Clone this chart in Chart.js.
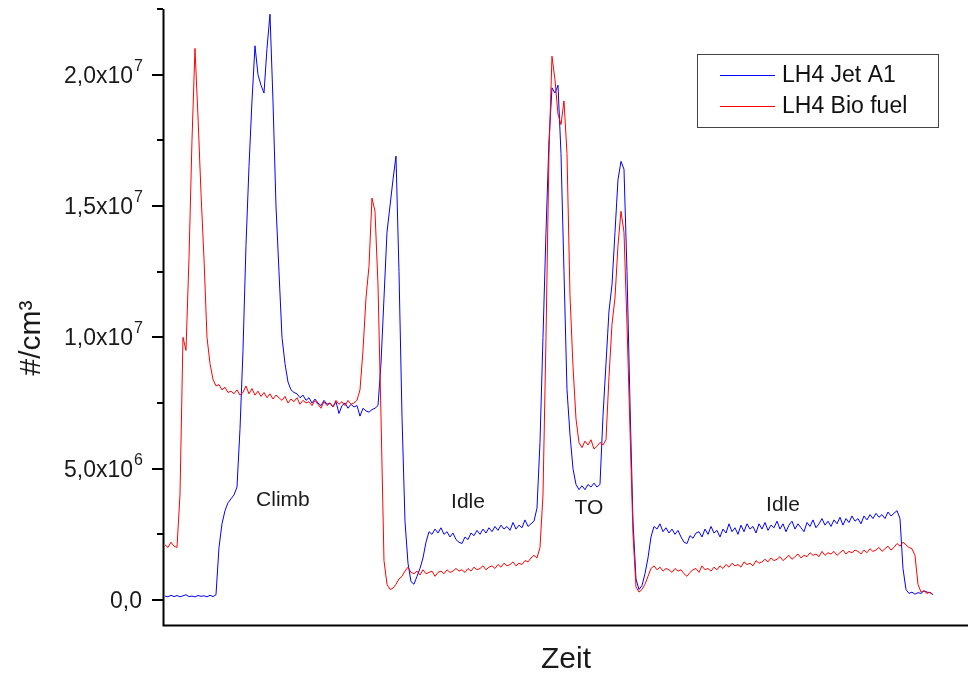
<!DOCTYPE html>
<html>
<head>
<meta charset="utf-8">
<script src="https://cdn.jsdelivr.net/npm/chart.js@4/dist/chart.umd.min.js"></script>
<style>
  body { margin: 0; background: #fff; }
</style>
</head>
<body>
<canvas id="lh4" width="968" height="675"></canvas>
<script>
// particle counts in 1e6 #/cm3, one sample per time step
const unit = 1e6;

const jetA1 = [
  0.15,0.12,0.18,0.13,0.17,0.12,0.16,0.2,0.13,0.15,
  0.12,0.17,0.14,0.16,0.12,0.18,0.13,0.2,2.0,2.9,
  3.4,3.7,3.85,4.0,4.3,6.5,9.5,13.5,16.5,19.0,
  21.1,20.0,19.6,19.3,21.0,22.3,19.0,15.0,12.5,10.0,
  9.0,8.3,8.0,7.9,7.85,7.7,7.8,7.6,7.7,7.5,
  7.65,7.5,7.4,7.6,7.45,7.5,7.35,7.55,7.1,7.4,
  7.5,7.3,7.45,7.35,7.4,7.0,7.3,7.2,7.15,7.25,
  7.3,7.4,9.0,11.5,14.0,15.0,16.0,16.9,12.5,7.0,
  3.0,1.4,0.7,0.6,0.9,1.2,1.6,2.2,2.6,2.5,
  2.7,2.55,2.75,2.5,2.6,2.4,2.55,2.3,2.2,2.15,
  2.4,2.3,2.55,2.45,2.65,2.5,2.7,2.55,2.75,2.6,
  2.8,2.65,2.85,2.7,2.8,2.65,2.95,2.7,2.85,2.75,
  3.05,2.8,2.9,3.0,3.5,6.0,10.0,14.0,17.5,19.5,
  19.3,19.6,17.0,12.5,8.0,6.3,5.0,4.4,4.2,4.35,
  4.2,4.4,4.3,4.45,4.3,4.4,7.0,9.0,11.0,12.0,
  14.0,16.0,16.7,16.4,12.5,7.5,3.0,0.8,0.4,0.55,
  1.0,1.6,2.4,2.8,2.7,2.9,2.6,2.75,2.55,2.7,
  2.5,2.65,2.4,2.2,2.15,2.45,2.35,2.55,2.6,2.4,
  2.7,2.5,2.8,2.55,2.65,2.4,2.7,2.55,2.9,2.6,
  2.75,2.5,2.85,2.6,2.9,2.7,2.8,2.55,2.9,2.7,
  2.95,2.65,2.85,2.75,3.0,2.7,2.9,2.6,2.85,3.0,
  2.7,2.9,2.75,2.6,2.95,2.8,3.05,2.75,2.9,3.1,
  2.85,3.0,2.8,3.05,2.9,3.15,2.85,3.1,2.95,3.2,
  3.0,3.1,2.9,3.2,3.05,3.25,3.1,3.3,3.15,3.25,
  3.1,3.35,3.2,3.3,3.4,3.1,1.2,0.4,0.25,0.3,
  0.22,0.28,0.25,0.35,0.3,0.28,0.2
];

const bioFuel = [
  2.1,2.0,2.2,2.05,2.0,4.0,10.0,9.5,13.0,17.5,
  21.0,18.4,15.5,13.0,10.0,9.0,8.4,8.15,8.2,8.0,
  8.1,7.9,7.95,7.85,8.0,7.8,7.9,8.15,7.85,8.05,
  7.8,7.95,7.75,7.9,7.7,7.85,7.65,7.8,7.7,7.6,
  7.75,7.5,7.65,7.55,7.7,7.45,7.6,7.5,7.55,7.4,
  7.6,7.45,7.3,7.55,7.4,7.5,7.35,7.6,7.45,7.55,
  7.4,7.6,7.45,7.5,7.6,8.0,9.5,11.5,12.7,15.3,
  14.8,12.0,7.0,1.5,0.6,0.4,0.45,0.6,0.8,0.9,
  1.1,1.25,1.05,1.0,1.1,0.95,1.15,1.0,1.05,1.1,
  0.9,1.05,1.1,1.0,1.15,1.05,1.1,1.2,1.1,1.15,
  1.05,1.2,1.1,1.25,1.15,1.2,1.3,1.15,1.25,1.3,
  1.2,1.35,1.25,1.4,1.3,1.35,1.45,1.3,1.4,1.35,
  1.5,1.45,1.6,1.7,1.6,2.0,4.0,10.0,17.0,20.7,
  19.8,18.5,18.1,19.0,17.0,11.6,8.9,6.9,6.0,5.8,
  6.05,5.9,6.1,5.75,5.85,6.0,5.9,6.1,8.5,10.5,
  11.5,13.5,14.8,14.0,10.5,6.5,2.5,0.5,0.3,0.4,
  0.6,0.9,1.2,1.3,1.15,1.25,1.1,1.2,1.15,1.05,
  1.2,1.1,1.15,1.0,0.9,1.05,1.15,1.2,1.05,1.3,
  1.15,1.2,1.1,1.25,1.15,1.3,1.2,1.35,1.25,1.4,
  1.3,1.35,1.25,1.45,1.35,1.4,1.3,1.5,1.4,1.45,
  1.55,1.45,1.6,1.5,1.55,1.65,1.5,1.6,1.7,1.55,
  1.65,1.75,1.6,1.7,1.65,1.8,1.7,1.75,1.65,1.85,
  1.7,1.8,1.75,1.85,1.7,1.8,1.9,1.75,1.85,1.8,
  1.9,1.85,1.75,1.9,1.8,1.95,1.85,1.9,2.0,1.85,
  1.95,2.05,1.9,2.0,2.15,2.05,2.2,2.1,2.0,1.95,
  1.7,0.6,0.3,0.35,0.25,0.3,0.2
];

const seriesNames = ['LH4 Jet A1', 'LH4 Bio fuel'];
const majorTicks = [0, 5e6, 1e7, 1.5e7, 2e7];
const majorLabels = [['0,0', ''], ['5,0x10', '6'], ['1,0x10', '7'], ['1,5x10', '7'], ['2,0x10', '7']];
const minorTicks = [2.5e6, 7.5e6, 1.25e7, 1.75e7, 2.25e7];

// flight phases written into the plot: [name, time step, value]
const phases = [['Climb', 39.3, 3.8e6], ['Idle', 101, 3.73e6], ['TO', 141.3, 3.5e6], ['Idle', 206, 3.62e6]];

const FONT = "'Liberation Sans', Arial, sans-serif";

const toPoints = arr => arr.map((v, i) => ({ x: i, y: v * unit }));

const frame = {
  id: 'frame',
  afterDraw(chart) {
    const ctx = chart.ctx, a = chart.chartArea, ys = chart.scales.y, xs = chart.scales.x;
    ctx.save();
    ctx.strokeStyle = '#000';
    ctx.lineWidth = 2;
    ctx.beginPath();
    ctx.moveTo(a.left - 0.5, a.top);
    ctx.lineTo(a.left - 0.5, a.bottom - 0.5);
    ctx.lineTo(a.right, a.bottom - 0.5);
    ctx.stroke();

    // ticks on the value axis, snapped to whole pixels
    ctx.beginPath();
    majorTicks.forEach(v => {
      const py = Math.round(ys.getPixelForValue(v));
      ctx.moveTo(a.left - 12, py); ctx.lineTo(a.left - 1, py);
    });
    minorTicks.forEach(v => {
      const py = Math.round(ys.getPixelForValue(v));
      ctx.moveTo(a.left - 7, py); ctx.lineTo(a.left - 1, py);
    });
    ctx.stroke();

    // tick labels with exponent
    ctx.fillStyle = '#1a1a1a';
    ctx.textBaseline = 'alphabetic';
    ctx.textAlign = 'left';
    majorTicks.forEach((v, i) => {
      const py = ys.getPixelForValue(v);
      const [base, exp] = majorLabels[i];
      ctx.font = '23px ' + FONT;
      const wb = ctx.measureText(base).width;
      ctx.font = '16px ' + FONT;
      const we = exp ? ctx.measureText(exp).width : 0;
      const x0 = 142 - wb - we;
      ctx.font = '23px ' + FONT;
      ctx.fillText(base, x0, py + 8);
      if (exp) {
        ctx.font = '16px ' + FONT;
        ctx.fillText(exp, x0 + wb + 1, py - 4);
      }
    });

    // axis titles
    ctx.font = '30px ' + FONT;
    ctx.textAlign = 'center';
    ctx.textBaseline = 'middle';
    ctx.fillText('Zeit', 566, 660);
    ctx.save();
    ctx.translate(32, 338);
    ctx.rotate(-Math.PI / 2);
    ctx.fillText('#/cm\u00b3', 0, 0);
    ctx.restore();

    // phase names
    ctx.font = '21px ' + FONT;
    phases.forEach(([name, t, v]) => {
      ctx.fillText(name, xs.getPixelForValue(t), ys.getPixelForValue(v));
    });

    // legend box
    ctx.lineWidth = 1;
    ctx.strokeStyle = '#444';
    ctx.strokeRect(697.5, 54.5, 241, 73);
    ctx.textAlign = 'left';
    ctx.font = '23px ' + FONT;
    chart.data.datasets.forEach((ds, i) => {
      const ly = 75 + i * 31;
      ctx.strokeStyle = ds.borderColor;
      ctx.beginPath();
      ctx.moveTo(720, ly + 0.5); ctx.lineTo(775, ly + 0.5);
      ctx.stroke();
      ctx.fillStyle = '#111';
      ctx.fillText(ds.label, 782, ly + 1);
    });
    ctx.restore();
  }
};

new Chart(document.getElementById('lh4'), {
  type: 'line',
  data: {
    datasets: [
      { label: seriesNames[0], data: toPoints(jetA1), borderColor: '#0000ff', borderWidth: 1, pointRadius: 0, tension: 0, order: 2 },
      { label: seriesNames[1], data: toPoints(bioFuel), borderColor: '#ff0000', borderWidth: 1, pointRadius: 0, tension: 0, order: 1 }
    ]
  },
  options: {
    responsive: false,
    animation: false,
    devicePixelRatio: 1,
    layout: { padding: { left: 164, top: 9, right: 0, bottom: 49 } },
    scales: {
      x: { type: 'linear', display: false, min: -1 / 3, max: 267.67 },
      y: { display: false, min: -0.99e6, max: 2.25e7 }
    },
    plugins: { legend: { display: false }, tooltip: { enabled: false } }
  },
  plugins: [frame]
});
</script>
</body>
</html>
